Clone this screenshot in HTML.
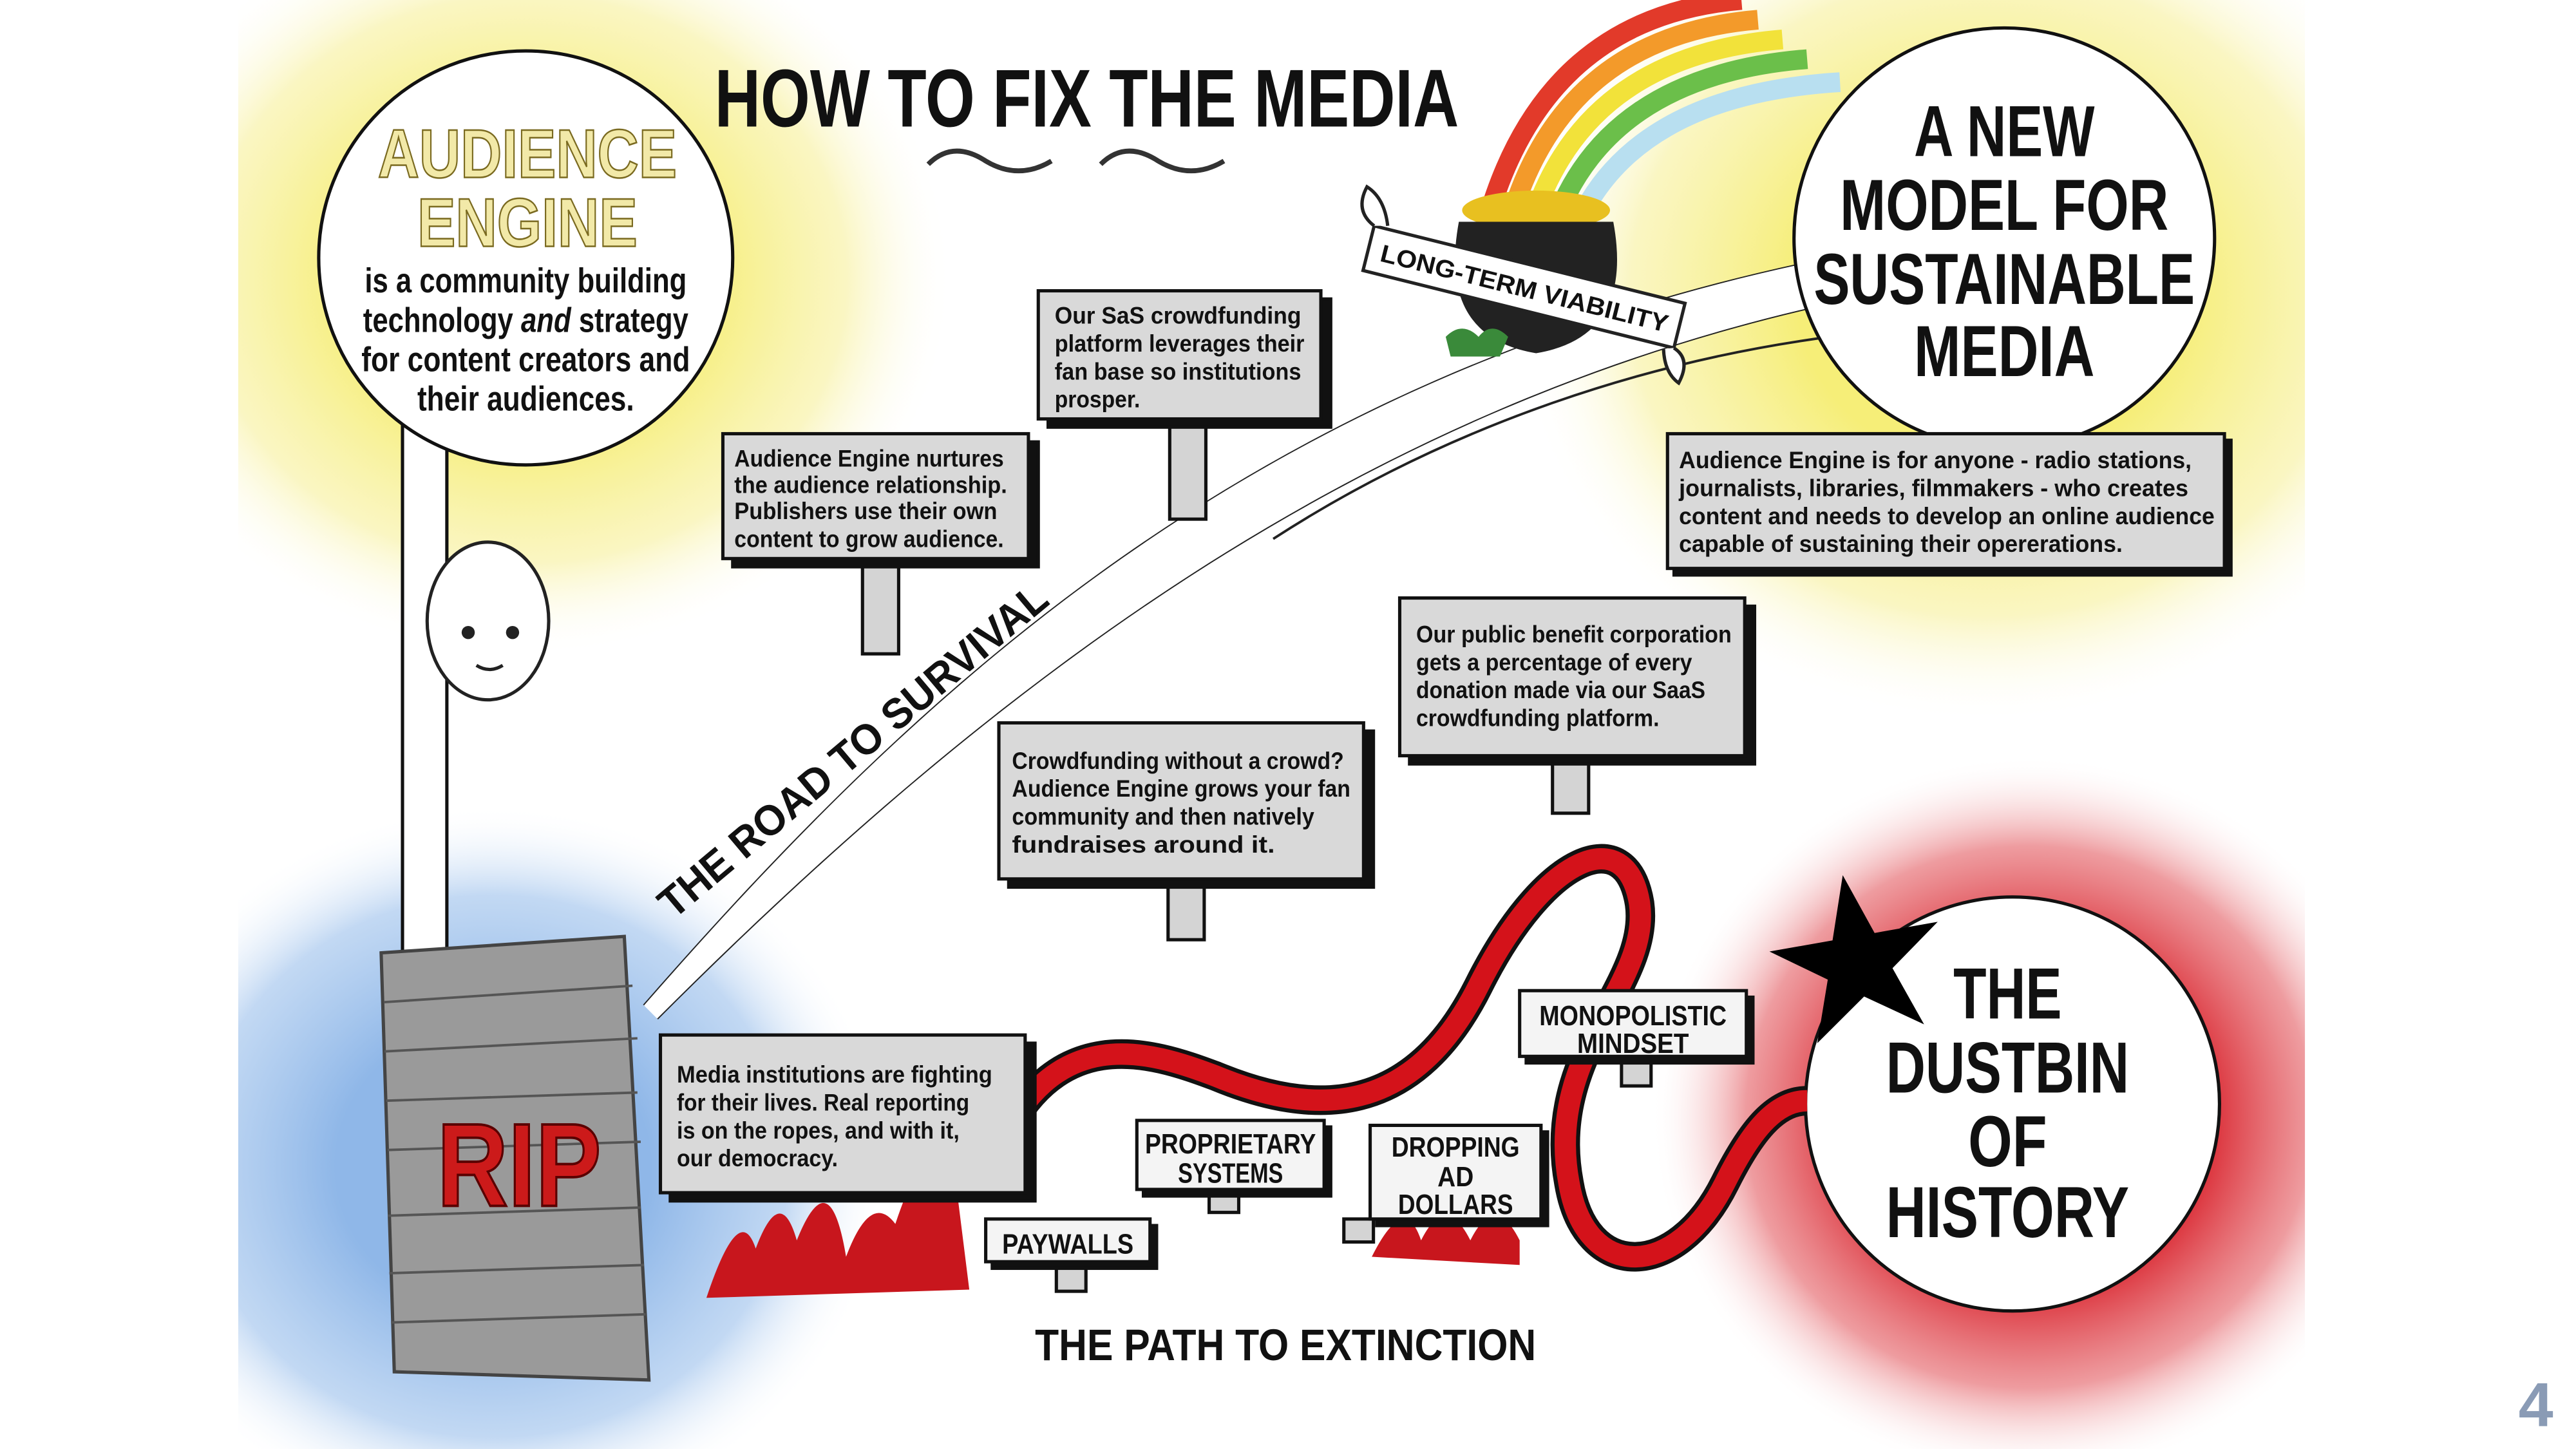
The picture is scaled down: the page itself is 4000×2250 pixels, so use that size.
<!DOCTYPE html>
<html><head><meta charset="utf-8"><style>
html,body{margin:0;padding:0;background:#fff;width:4000px;height:2250px;overflow:hidden}
svg{display:block;overflow:hidden}
text{font-family:"Liberation Sans",sans-serif;font-weight:bold}
.bt{font-size:14.5px;fill:#111}
</style></head><body>
<svg width="4000" height="2250" viewBox="0 0 1568 882" xmlns="http://www.w3.org/2000/svg">
<defs>
<radialGradient id="yl" cx="50%" cy="50%" r="50%"><stop offset="0.4" stop-color="#f6ee78"/><stop offset="0.75" stop-color="#f8f2a8" stop-opacity="0.7"/><stop offset="1" stop-color="#fff" stop-opacity="0"/></radialGradient>
<radialGradient id="bl" cx="50%" cy="50%" r="50%"><stop offset="0.4" stop-color="#8fb7e8"/><stop offset="0.75" stop-color="#a8c8ee" stop-opacity="0.7"/><stop offset="1" stop-color="#fff" stop-opacity="0"/></radialGradient>
<radialGradient id="rd" cx="50%" cy="50%" r="50%"><stop offset="0.45" stop-color="#d8202a"/><stop offset="0.75" stop-color="#e35a60" stop-opacity="0.6"/><stop offset="1" stop-color="#fff" stop-opacity="0"/></radialGradient>
</defs>
<rect width="1568" height="882" fill="#fff"/>
<ellipse cx="320" cy="170" rx="260" ry="230" fill="url(#yl)"/>
<ellipse cx="1210" cy="180" rx="290" ry="260" fill="url(#yl)"/>
<ellipse cx="300" cy="710" rx="240" ry="220" fill="url(#bl)"/>
<ellipse cx="1235" cy="680" rx="230" ry="220" fill="url(#rd)"/>
<rect x="0" y="0" width="145" height="882" fill="#fff"/>
<rect x="1403" y="0" width="165" height="882" fill="#fff"/>
<g fill="none" stroke-width="12">
<path d="M905 135 Q940 10 1060 0" stroke="#e23a2a"/>
<path d="M918 138 Q950 22 1070 12" stroke="#f39a2a"/>
<path d="M931 140 Q962 34 1085 24" stroke="#f2e23a"/>
<path d="M944 142 Q975 46 1100 36" stroke="#6bbf4a"/>
<path d="M957 144 Q990 58 1120 50" stroke="#b8dff0"/>
</g>
<g fill="none" stroke="#222" stroke-width="1.5">
<path d="M392 612 C560 420 760 230 1110 158" />
<path d="M400 620 C600 420 820 250 1112 185"/>
<path d="M775 328 C880 260 1000 220 1114 205"/>
</g>
<path d="M392 612 C560 420 760 230 1110 158 L1112 185 C820 250 600 420 400 620Z" fill="#fff"/>
<rect x="245" y="255" width="27" height="325" fill="#fff" stroke="#111" stroke-width="2"/>
<circle cx="320" cy="157" r="126" fill="#fff" stroke="#111" stroke-width="2"/>
<circle cx="1220" cy="145" r="128" fill="#fff" stroke="#111" stroke-width="2"/>
<circle cx="1225" cy="672" r="126" fill="#fff" stroke="#111" stroke-width="2"/>
<text x="435" y="77" font-size="50" textLength="453" lengthAdjust="spacingAndGlyphs" fill="#111">HOW TO FIX THE MEDIA</text>
<path d="M565 100 q15 -15 35 -2 q20 12 40 0 M670 100 q15 -15 35 -2 q20 12 40 0" fill="none" stroke="#333" stroke-width="3"/>
<text x="230" y="108" font-size="42" textLength="182" lengthAdjust="spacingAndGlyphs" fill="#f2e9a8" stroke="#7a6a20" stroke-width="1">AUDIENCE</text>
<text x="254" y="150" font-size="42" textLength="134" lengthAdjust="spacingAndGlyphs" fill="#f2e9a8" stroke="#7a6a20" stroke-width="1">ENGINE</text>
<g font-size="21" fill="#111" text-anchor="middle">
<text x="320" y="178" textLength="196" lengthAdjust="spacingAndGlyphs">is a community building</text>
<text x="320" y="202" textLength="198" lengthAdjust="spacingAndGlyphs">technology <tspan font-style="italic">and</tspan> strategy</text>
<text x="320" y="226" textLength="200" lengthAdjust="spacingAndGlyphs">for content creators and</text>
<text x="320" y="250" textLength="132" lengthAdjust="spacingAndGlyphs">their audiences.</text>
</g>
<g font-size="44" fill="#111" text-anchor="middle">
<text x="1220" y="95" textLength="110" lengthAdjust="spacingAndGlyphs">A NEW</text>
<text x="1220" y="140" textLength="200" lengthAdjust="spacingAndGlyphs">MODEL FOR</text>
<text x="1220" y="185" textLength="232" lengthAdjust="spacingAndGlyphs">SUSTAINABLE</text>
<text x="1220" y="229" textLength="110" lengthAdjust="spacingAndGlyphs">MEDIA</text>
<text x="1222" y="620" textLength="66" lengthAdjust="spacingAndGlyphs">THE</text>
<text x="1222" y="665" textLength="148" lengthAdjust="spacingAndGlyphs">DUSTBIN</text>
<text x="1222" y="710" textLength="48" lengthAdjust="spacingAndGlyphs">OF</text>
<text x="1222" y="753" textLength="148" lengthAdjust="spacingAndGlyphs">HISTORY</text>
</g>
<polygon points="1130,532 1143,570 1182,570 1150,593 1163,630 1130,607 1097,630 1110,593 1078,570 1117,570" fill="#000" transform="rotate(-10 1130 580)"/>
<!-- pot -->
<ellipse cx="935" cy="128" rx="45" ry="12" fill="#e8c020"/>
<path d="M888 135 Q875 205 935 215 Q995 205 982 135Z" fill="#222"/>
<path d="M880 205 q10 -10 20 0 q8 -10 18 0 l-5 12 h-30Z" fill="#3a8a3a"/>
<!-- banner -->
<g transform="rotate(14 925 175)">
<rect x="830" y="160" width="195" height="28" fill="#fff" stroke="#222" stroke-width="2"/>
<path d="M830 160 q-14 -6 -10 -22 q12 4 18 20" fill="#fff" stroke="#222" stroke-width="2"/>
<path d="M1025 188 q12 4 8 20 q-10 -4 -14 -18" fill="#fff" stroke="#222" stroke-width="2"/>
<text x="838" y="180" font-size="15" font-weight="normal" fill="#111" textLength="180" lengthAdjust="spacingAndGlyphs">LONG-TERM VIABILITY</text>
</g>
<path d="M605 705 C640 620 700 640 740 655 C800 680 860 680 900 600 C940 520 990 500 998 550 C1005 600 940 640 955 720 C965 780 1020 780 1050 720 C1065 690 1080 670 1100 670" fill="none" stroke="#111" stroke-width="18"/>
<path d="M605 705 C640 620 700 640 740 655 C800 680 860 680 900 600 C940 520 990 500 998 550 C1005 600 940 640 955 720 C965 780 1020 780 1050 720 C1065 690 1080 670 1100 670" fill="none" stroke="#d4121a" stroke-width="13"/>
<path d="M430 790 q20 -60 30 -30 q15 -40 25 -5 q20 -50 30 10 q15 -40 30 -20 q20 -60 35 -40 l10 80Z" fill="#c8161d"/>
<path d="M835 765 q20 -40 30 -10 q15 -30 30 0 q15 -30 30 0 l0 15Z" fill="#c8161d"/>
<ellipse cx="297" cy="378" rx="37" ry="48" fill="#fff" stroke="#222" stroke-width="2"/>
<circle cx="285" cy="385" r="4" fill="#222"/><circle cx="312" cy="385" r="4" fill="#222"/>
<path d="M290 405 q8 5 16 0" stroke="#222" fill="none" stroke-width="2"/>
<path d="M232 580 L380 570 L395 840 L240 835Z" fill="#9a9a9a" stroke="#444" stroke-width="2"/>
<g stroke="#555" stroke-width="1.5">
<line x1="234" y1="610" x2="385" y2="600"/><line x1="234" y1="640" x2="388" y2="632"/><line x1="235" y1="670" x2="388" y2="665"/>
<line x1="236" y1="700" x2="390" y2="695"/><line x1="236" y1="740" x2="390" y2="735"/><line x1="237" y1="775" x2="392" y2="770"/><line x1="238" y1="805" x2="393" y2="800"/>
</g>
<text x="266" y="734" font-size="72" fill="#cc1a1a" stroke="#5a0000" stroke-width="1.5" textLength="100" lengthAdjust="spacingAndGlyphs">RIP</text>
<text x="410" y="560" font-size="26" fill="#111" transform="rotate(-40 410 560)" textLength="300" lengthAdjust="spacingAndGlyphs">THE ROAD TO SURVIVAL</text>
<text x="630" y="828" font-size="27" fill="#111" textLength="305" lengthAdjust="spacingAndGlyphs">THE PATH TO EXTINCTION</text>
<g fill="#d4d4d4" stroke="#111" stroke-width="2">
<rect x="712" y="255" width="22" height="61"/>
<rect x="525" y="340" width="22" height="58"/>
<rect x="945" y="460" width="22" height="35"/>
<rect x="711" y="536" width="22" height="36"/>
<rect x="643" y="768" width="18" height="18"/>
<rect x="736" y="724" width="18" height="14"/>
<rect x="818" y="742" width="18" height="14"/>
<rect x="987" y="643" width="18" height="18"/>
</g>
<g stroke="#111" stroke-width="2">
<rect x="638" y="182" width="172" height="78" fill="#111"/><rect x="632" y="177" width="172" height="78" fill="#d9d9d9"/>
<rect x="446" y="269" width="186" height="76" fill="#111"/><rect x="440" y="264" width="186" height="76" fill="#d9d9d9"/>
<rect x="1019" y="268" width="339" height="82" fill="#111"/><rect x="1015" y="264" width="339" height="82" fill="#d9d9d9"/>
<rect x="858" y="369" width="210" height="96" fill="#111"/><rect x="852" y="364" width="210" height="96" fill="#d9d9d9"/>
<rect x="614" y="445" width="222" height="95" fill="#111"/><rect x="608" y="440" width="222" height="95" fill="#d9d9d9"/>
<rect x="408" y="635" width="222" height="96" fill="#111"/><rect x="402" y="630" width="222" height="96" fill="#d9d9d9"/>
<rect x="604" y="746" width="100" height="26" fill="#111"/><rect x="600" y="742" width="100" height="26" fill="#f4f4f4"/>
<rect x="696" y="686" width="114" height="42" fill="#111"/><rect x="692" y="682" width="114" height="42" fill="#f4f4f4"/>
<rect x="838" y="689" width="104" height="57" fill="#111"/><rect x="834" y="685" width="104" height="57" fill="#f4f4f4"/>
<rect x="929" y="607" width="138" height="40" fill="#111"/><rect x="925" y="603" width="138" height="40" fill="#f4f4f4"/>
</g>
<g class="bt">
<text x="642" y="197" class="bt" textLength="150" lengthAdjust="spacingAndGlyphs">Our SaS crowdfunding</text>
<text x="642" y="214" class="bt" textLength="152" lengthAdjust="spacingAndGlyphs">platform leverages their</text>
<text x="642" y="231" class="bt" textLength="150" lengthAdjust="spacingAndGlyphs">fan base so institutions</text>
<text x="642" y="248" class="bt" textLength="52" lengthAdjust="spacingAndGlyphs">prosper.</text>
<text x="447" y="284" class="bt" textLength="164" lengthAdjust="spacingAndGlyphs">Audience Engine nurtures</text>
<text x="447" y="300" class="bt" textLength="166" lengthAdjust="spacingAndGlyphs">the audience relationship.</text>
<text x="447" y="316" class="bt" textLength="160" lengthAdjust="spacingAndGlyphs">Publishers use their own</text>
<text x="447" y="333" class="bt" textLength="164" lengthAdjust="spacingAndGlyphs">content to grow audience.</text>
<text x="1022" y="285" class="bt" textLength="312" lengthAdjust="spacingAndGlyphs">Audience Engine is for anyone - radio stations,</text>
<text x="1022" y="302" class="bt" textLength="310" lengthAdjust="spacingAndGlyphs">journalists, libraries, filmmakers - who creates</text>
<text x="1022" y="319" class="bt" textLength="326" lengthAdjust="spacingAndGlyphs">content and needs to develop an online audience</text>
<text x="1022" y="336" class="bt" textLength="270" lengthAdjust="spacingAndGlyphs">capable of sustaining their opererations.</text>
<text x="862" y="391" class="bt" textLength="192" lengthAdjust="spacingAndGlyphs">Our public benefit corporation</text>
<text x="862" y="408" class="bt" textLength="168" lengthAdjust="spacingAndGlyphs">gets a percentage of every</text>
<text x="862" y="425" class="bt" textLength="176" lengthAdjust="spacingAndGlyphs">donation made via our SaaS</text>
<text x="862" y="442" class="bt" textLength="148" lengthAdjust="spacingAndGlyphs">crowdfunding platform.</text>
<text x="616" y="468" class="bt" textLength="202" lengthAdjust="spacingAndGlyphs">Crowdfunding without a crowd?</text>
<text x="616" y="485" class="bt" textLength="206" lengthAdjust="spacingAndGlyphs">Audience Engine grows your fan</text>
<text x="616" y="502" class="bt" textLength="184" lengthAdjust="spacingAndGlyphs">community and then natively</text>
<text x="616" y="519" class="bt" textLength="160" lengthAdjust="spacingAndGlyphs">fundraises around it.</text>
<text x="412" y="659" class="bt" textLength="192" lengthAdjust="spacingAndGlyphs">Media institutions are fighting</text>
<text x="412" y="676" class="bt" textLength="178" lengthAdjust="spacingAndGlyphs">for their lives. Real reporting</text>
<text x="412" y="693" class="bt" textLength="172" lengthAdjust="spacingAndGlyphs">is on the ropes, and with it,</text>
<text x="412" y="710" class="bt" textLength="98" lengthAdjust="spacingAndGlyphs">our democracy.</text>
</g>
<g font-size="17" fill="#111" text-anchor="middle">
<text x="650" y="763" textLength="80" lengthAdjust="spacingAndGlyphs">PAYWALLS</text>
<text x="749" y="702" textLength="104" lengthAdjust="spacingAndGlyphs">PROPRIETARY</text>
<text x="749" y="720" textLength="64" lengthAdjust="spacingAndGlyphs">SYSTEMS</text>
<text x="886" y="704" textLength="78" lengthAdjust="spacingAndGlyphs">DROPPING</text>
<text x="886" y="722" textLength="22" lengthAdjust="spacingAndGlyphs">AD</text>
<text x="886" y="739" textLength="70" lengthAdjust="spacingAndGlyphs">DOLLARS</text>
<text x="994" y="624" textLength="114" lengthAdjust="spacingAndGlyphs">MONOPOLISTIC</text>
<text x="994" y="641" textLength="68" lengthAdjust="spacingAndGlyphs">MINDSET</text>
</g>
<text x="1533" y="868" font-size="38" fill="#8a9bb5">4</text>
</svg>
</body></html>
